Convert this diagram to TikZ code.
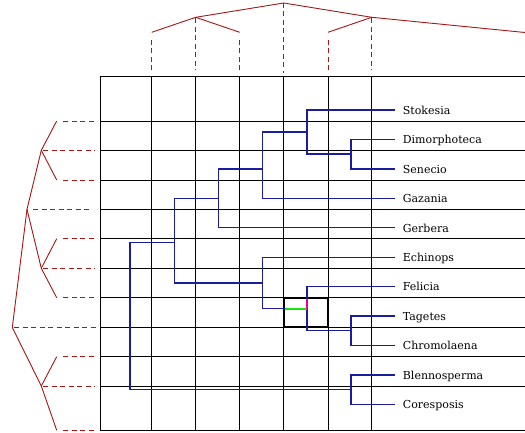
\documentclass[tikz,border=0pt]{standalone}
\usepackage{fontspec}
\setmainfont{DejaVu Serif}
\definecolor{treered}{RGB}{165,22,22}
\definecolor{treeblue}{RGB}{28,28,160}
\definecolor{hilgreen}{RGB}{20,230,20}
\begin{document}
\begin{tikzpicture}[x=1pt,y=-1pt,
  gridline/.style={draw=black, line width=0.9pt},
  branch/.style={draw=treeblue, line width=1.4pt},
  redtree/.style={draw=treered, line width=0.9pt},
  reddash/.style={draw=treered, line width=0.9pt, dash pattern=on 5pt off 3.5pt},
  leaflabel/.style={anchor=west, inner xsep=7.7pt, inner ysep=0pt, text height=8.6pt, text depth=0pt, font=\fontsize{11}{13}\selectfont},
]
\useasboundingbox (0,0) rectangle (525,433);
% grid
\foreach \y in {76,121,150.3,180,209.3,238.7,268.3,297.7,327.3,356.7,386,430.3}
  \draw[gridline] (100,\y) -- (525,\y);
\foreach \x in {100,151.7,195.7,239.7,283.7,328,371.7}
  \draw[gridline] (\x,76) -- (\x,430.3);
% highlighted cell
\draw[line width=1.8pt] (283.7,297.7) rectangle (328,327.3);
% leaf labels
\node[leaflabel] (Stokesia) at (395,110) {Stokesia};
\node[leaflabel] (Dimorphoteca) at (395,139.4) {Dimorphoteca};
\node[leaflabel] (Senecio) at (395,168.9) {Senecio};
\node[leaflabel] (Gazania) at (395,198.3) {Gazania};
\node[leaflabel] (Gerbera) at (395,227.7) {Gerbera};
\node[leaflabel] (Echinops) at (395,257.2) {Echinops};
\node[leaflabel] (Felicia) at (395,286.6) {Felicia};
\node[leaflabel] (Tagetes) at (395,316) {Tagetes};
\node[leaflabel] (Chromolaena) at (395,345.4) {Chromolaena};
\node[leaflabel] (Blennosperma) at (395,374.9) {Blennosperma};
\node[leaflabel] (Coresposis) at (395,404.3) {Coresposis};
% internal nodes
\coordinate (nDS) at (351,154);
\coordinate (nSDS) at (307,132);
\coordinate (nG) at (262.7,169);
\coordinate (nGe) at (218.7,198.3);
\coordinate (nTC) at (351,330.7);
\coordinate (nFTC) at (307,308.7);
\coordinate (nE) at (262.7,283);
\coordinate (nA) at (174.3,242.7);
\coordinate (nBC) at (351,389.7);
\coordinate (nR) at (130,300);
% blue tree
\draw[branch] (Dimorphoteca.west) -| (nDS);
\draw[branch] (Senecio.west) -| (nDS);
\draw[branch] (Stokesia.west) -| (nSDS);
\draw[branch] (nDS) -| (nSDS);
\draw[branch] (nSDS) -| (nG);
\draw[branch] (Gazania.west) -| (nG);
\draw[branch] (nG) -| (nGe);
\draw[branch] (Gerbera.west) -| (nGe);
\draw[branch] (Tagetes.west) -| (nTC);
\draw[branch] (Chromolaena.west) -| (nTC);
\draw[branch] (Felicia.west) -| (nFTC);
\draw[branch] (nTC) -| (nFTC);
\draw[branch] (Echinops.west) -| (nE);
\draw[branch] (nFTC) -| (nE);
\draw[branch] (nGe) -| (nA);
\draw[branch] (nE) -| (nA);
\draw[branch] (Blennosperma.west) -| (nBC);
\draw[branch] (Coresposis.west) -| (nBC);
\draw[branch] (nA) -| (nR);
\draw[branch] (nBC) -| (nR);
% highlights inside the cell
\draw[draw=hilgreen, line width=2.2pt] (284.5,308.7) -- (nFTC);
\draw[draw=magenta, line width=2.8pt] (307,298.6) -- (nFTC);
% left red tree
\coordinate (R0) at (12.3,327.5);
\coordinate (LA) at (27,209.3);
\coordinate (LB) at (41.3,386);
\coordinate (LA1) at (41.3,150.3);
\coordinate (LA2) at (41.3,268.3);
\coordinate (l1) at (56.7,121);
\coordinate (l2) at (56.7,180);
\coordinate (l3) at (56.7,238.7);
\coordinate (l4) at (56.7,297.7);
\coordinate (l5) at (56.7,356.7);
\coordinate (l6) at (56.7,430.3);
\draw[redtree] (LA) -- (R0) -- (LB);
\draw[redtree] (LA1) -- (LA) -- (LA2);
\draw[redtree] (l1) -- (LA1) -- (l2);
\draw[redtree] (l3) -- (LA2) -- (l4);
\draw[redtree] (l5) -- (LB) -- (l6);
\foreach \c in {l1,l2,l3,l4,l5,l6}
  \draw[reddash] ([xshift=6.3pt]\c) -- ([xshift=37.5pt]\c);
\draw[reddash] ([xshift=1.7pt]LA1) -- ([xshift=53pt]LA1);
\draw[reddash] ([xshift=1.7pt]LA2) -- ([xshift=54pt]LA2);
\draw[reddash] ([xshift=1.7pt]LB) -- ([xshift=54pt]LB);
\draw[reddash] ([xshift=6pt]LA) -- ([xshift=65pt]LA);
\draw[reddash] ([xshift=1.7pt]R0) -- ([xshift=84.5pt]R0);
% top red tree
\coordinate (T0) at (283.7,3);
\coordinate (TL) at (195.7,17.3);
\coordinate (TR) at (371.7,17.3);
\coordinate (t1) at (151.7,32.3);
\coordinate (t2) at (239.7,32.3);
\coordinate (t3) at (328,32.3);
\coordinate (t4) at (525,32.5);
\draw[redtree] (TL) -- (T0) -- (TR);
\draw[redtree] (t1) -- (TL) -- (t2);
\draw[redtree] (t3) -- (TR) -- (t4);
\foreach \c in {t1,t2,t3}
  \draw[reddash] ([yshift=-7.7pt]\c) -- ([yshift=-37.7pt]\c);
\draw[reddash] ([yshift=-1pt]TL) -- ([yshift=-52.7pt]TL);
\draw[reddash] ([yshift=-1pt]TR) -- ([yshift=-52.7pt]TR);
\draw[reddash] (T0) -- ([yshift=-69.7pt]T0);
\end{tikzpicture}
\end{document}
